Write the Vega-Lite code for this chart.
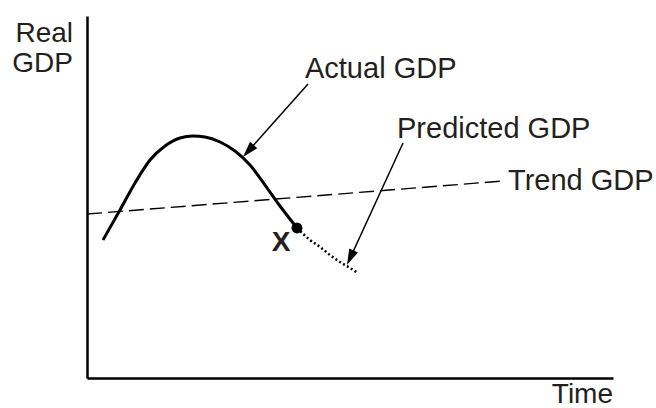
{
  "$schema": "https://vega.github.io/schema/vega-lite/v6.json",
  "width": 526,
  "height": 362,
  "autosize": {"type": "none"},
  "padding": {"left": 87, "top": 16, "right": 43, "bottom": 30},
  "background": "white",
  "config": {"view": {"stroke": null}, "font": "Liberation Sans"},
  "datasets": {
    "trend": [{"t": 0, "g": 45.3}, {"t": 79.09, "g": 54.42}],
    "actual": [
      {"t": 3.04, "g": 38.12}, {"t": 6.27, "g": 46.41}, {"t": 9.13, "g": 53.87},
      {"t": 11.98, "g": 60.22}, {"t": 14.83, "g": 64.09}, {"t": 17.68, "g": 66.3},
      {"t": 20.15, "g": 66.85}, {"t": 22.43, "g": 66.57}, {"t": 25.29, "g": 65.19},
      {"t": 28.14, "g": 62.71}, {"t": 30.99, "g": 58.84}, {"t": 33.84, "g": 53.31},
      {"t": 36.69, "g": 47.51}, {"t": 39.92, "g": 41.44}
    ],
    "predicted": [
      {"t": 39.92, "g": 41.44}, {"t": 42.4, "g": 38.12}, {"t": 44.3, "g": 36.19},
      {"t": 46.2, "g": 33.98}, {"t": 48.1, "g": 32.04}, {"t": 50.0, "g": 30.39},
      {"t": 51.52, "g": 29.01}
    ],
    "pointX": [{"t": 39.92, "g": 41.44, "label": "X"}],
    "arrowActual": [{"t": 42.02, "g": 81.22}, {"t": 30.67, "g": 62.71}],
    "headActual": [{"t": 30.67, "g": 62.71}],
    "arrowPred": [{"t": 60.08, "g": 64.92}, {"t": 50.06, "g": 33.23}],
    "headPred": [{"t": 50.06, "g": 33.23}],
    "labels": [
      {"t": 41.44, "g": 82.87, "label": "Actual GDP"},
      {"t": 58.94, "g": 66.3, "label": "Predicted GDP"},
      {"t": 80.04, "g": 51.93, "label": "Trend GDP"}
    ],
    "yTitle": [
      {"t": -2.66, "g": 92.82, "label": "Real"},
      {"t": -2.66, "g": 84.53, "label": "GDP"}
    ],
    "xTitle": [{"t": 100, "g": -6.9, "label": "Time"}],
    "xMark": [{"t": 36.88, "g": 37.29, "label": "X"}]
  },
  "encoding": {
    "x": {
      "field": "t", "type": "quantitative",
      "scale": {"domain": [0, 100], "nice": false, "zero": false},
      "axis": {"title": null, "labels": false, "ticks": false, "grid": false, "domainColor": "black", "domainWidth": 2.5}
    },
    "y": {
      "field": "g", "type": "quantitative",
      "scale": {"domain": [0, 100], "nice": false, "zero": false},
      "axis": {"title": null, "labels": false, "ticks": false, "grid": false, "domainColor": "black", "domainWidth": 2.5}
    }
  },
  "layer": [
    {"data": {"name": "trend"}, "mark": {"type": "line", "color": "black", "strokeWidth": 1.4, "strokeDash": [15, 6]}},
    {"data": {"name": "actual"}, "mark": {"type": "line", "color": "black", "strokeWidth": 3, "interpolate": "monotone"}},
    {"data": {"name": "predicted"}, "mark": {"type": "line", "color": "black", "strokeWidth": 2.5, "strokeDash": [2, 2.5], "interpolate": "monotone"}},
    {"data": {"name": "pointX"}, "mark": {"type": "point", "filled": true, "color": "black", "size": 120, "opacity": 1}},
    {"data": {"name": "arrowActual"}, "mark": {"type": "line", "color": "black", "strokeWidth": 1.5}},
    {"data": {"name": "headActual"}, "mark": {"type": "point", "shape": "M0,-1L-0.6,1L0.6,1Z", "filled": true, "color": "black", "size": 256, "angle": 221.7, "opacity": 1}},
    {"data": {"name": "arrowPred"}, "mark": {"type": "line", "color": "black", "strokeWidth": 1.5}},
    {"data": {"name": "headPred"}, "mark": {"type": "point", "shape": "M0,-1L-0.6,1L0.6,1Z", "filled": true, "color": "black", "size": 256, "angle": 204.7, "opacity": 1}},
    {"data": {"name": "labels"}, "mark": {"type": "text", "align": "left", "baseline": "alphabetic", "fontSize": 29, "color": "#231f20"}, "encoding": {"text": {"field": "label"}}},
    {"data": {"name": "yTitle"}, "mark": {"type": "text", "align": "right", "baseline": "alphabetic", "fontSize": 28, "color": "#231f20"}, "encoding": {"text": {"field": "label"}}},
    {"data": {"name": "xTitle"}, "mark": {"type": "text", "align": "right", "baseline": "alphabetic", "fontSize": 28, "color": "#231f20"}, "encoding": {"text": {"field": "label"}}},
    {"data": {"name": "xMark"}, "mark": {"type": "text", "align": "center", "baseline": "middle", "fontSize": 28, "fontWeight": "bold", "color": "#231f20"}, "encoding": {"text": {"field": "label"}}}
  ]
}
